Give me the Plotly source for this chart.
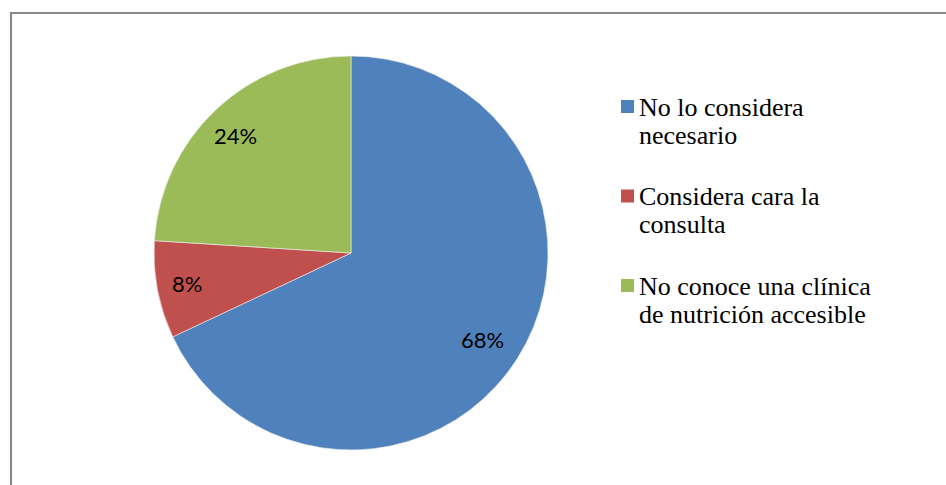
import math
import plotly.graph_objects as go

# Survey answers: reasons for not visiting a nutrition clinic
labels = [
    "No lo considera necesario",
    "Considera cara la consulta",
    "No conoce una clínica de nutrición accesible",
]
legend_lines = [
    ["No lo considera", "necesario"],
    ["Considera cara la", "consulta"],
    ["No conoce una clínica", "de nutrición accesible"],
]
values = [68, 8, 24]
colors = ["#4F81BD", "#C0504D", "#9BBB59"]

# Canvas and pie geometry (pixels)
W, H = 946, 485
CX, CY, R = 351, 253, 197
LABEL_R = 0.82          # label distance as a fraction of the radius
LABEL_DX = -5           # horizontal nudge for the percentage labels

# Legend geometry (pixels)
LEG_SWATCH_X = 621
LEG_TEXT_X = 637
LEG_FIRST_BASE = 116
LEG_LINE_STEP = 28
LEG_ENTRY_STEP = 89.5
SWATCH = 13

SERIF = "Liberation Serif, Times New Roman, DejaVu Serif, serif"


def fx(x):
    return x / W


def fy(y):
    return 1 - y / H


fig = go.Figure(
    go.Pie(
        labels=labels,
        values=values,
        sort=False,
        direction="clockwise",
        rotation=0,
        marker=dict(colors=colors, line=dict(color="#F2F2F2", width=0.6)),
        textinfo="none",
        hoverinfo="none",
        showlegend=False,
        domain=dict(x=[fx(CX - R), fx(CX + R)], y=[fy(CY + R), fy(CY - R)]),
    )
)

annotations = []
shapes = []

# Percentage labels placed along each slice's mid-angle
total = sum(values)
cum = 0
for v in values:
    mid = (cum + v / 2) / total * 2 * math.pi
    cum += v
    lx = CX + LABEL_R * R * math.sin(mid) + LABEL_DX
    ly = CY - LABEL_R * R * math.cos(mid)
    annotations.append(
        dict(
            x=fx(lx), y=fy(ly), xref="paper", yref="paper",
            text=f"{round(v / total * 100)}%", showarrow=False,
            xanchor="center", yanchor="middle",
            font=dict(family="Lato", size=22, color="#000000"),
        )
    )

# Legend: colour swatch plus two-line caption per category
for i, (lines, col) in enumerate(zip(legend_lines, colors)):
    base = LEG_FIRST_BASE + i * LEG_ENTRY_STEP
    shapes.append(
        dict(
            type="rect", xref="paper", yref="paper",
            x0=fx(LEG_SWATCH_X), x1=fx(LEG_SWATCH_X + SWATCH),
            y0=fy(base - 3), y1=fy(base - 3 - SWATCH),
            fillcolor=col, line=dict(width=0),
        )
    )
    for j, line in enumerate(lines):
        b = base + j * LEG_LINE_STEP
        annotations.append(
            dict(
                x=fx(LEG_TEXT_X), y=fy(b - 8.8), xref="paper", yref="paper",
                text=line, showarrow=False,
                xanchor="left", yanchor="middle",
                font=dict(family=SERIF, size=26, color="#000000"),
            )
        )

# Chart frame (left and top edges)
frame = dict(color="#898989", width=2.2)
shapes.append(dict(type="line", xref="paper", yref="paper",
                   x0=fx(11), x1=fx(11), y0=0, y1=fy(12), line=frame))
shapes.append(dict(type="line", xref="paper", yref="paper",
                   x0=fx(10), x1=1, y0=fy(13), y1=fy(13), line=frame))

fig.update_layout(
    width=W, height=H,
    margin=dict(l=0, r=0, t=0, b=0),
    paper_bgcolor="#FFFFFF",
    plot_bgcolor="#FFFFFF",
    showlegend=False,
    annotations=annotations,
    shapes=shapes,
)

fig.write_html("out.html")
